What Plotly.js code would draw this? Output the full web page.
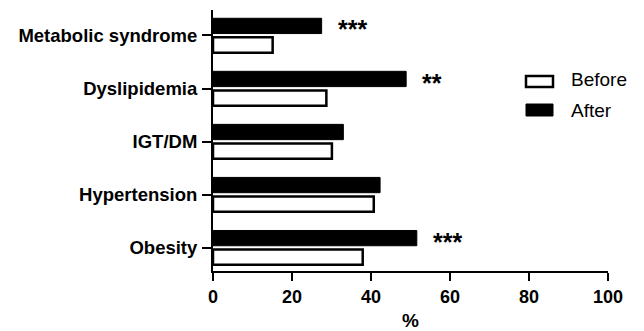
<!DOCTYPE html>
<html>
<head>
<meta charset="utf-8">
<script src="https://cdn.plot.ly/plotly-3.0.1.min.js"></script>
<style>html,body{margin:0;padding:0;background:#fff;}#chart{width:644px;height:331px;}</style>
</head>
<body>
<div id="chart"></div>
<script>
const categories = ["Obesity", "Hypertension", "IGT/DM", "Dyslipidemia", "Metabolic syndrome"];
const beforeValues = [37.9, 40.7, 30.1, 28.7, 15.1];
const afterValues = [51.6, 42.3, 33.0, 48.9, 27.5];
const significance = ["***", "", "", "**", "***"];
const xTicks = [0, 20, 40, 60, 80, 100];

const font = "Liberation Sans, Arial, Helvetica, sans-serif";

const traces = [
  {
    type: "bar", orientation: "h", name: "Before",
    x: beforeValues, y: categories,
    marker: {color: "#ffffff", line: {color: "#000000", width: 2.5}},
    hoverinfo: "x"
  },
  {
    type: "bar", orientation: "h", name: "After",
    x: afterValues, y: categories,
    marker: {color: "#000000", line: {color: "#000000", width: 1}},
    hoverinfo: "x"
  }
];

const annotations = [];
categories.forEach(function(c, i) {
  if (significance[i]) {
    annotations.push({
      x: afterValues[i], y: c, xref: "x", yref: "y",
      text: "<b>" + significance[i] + "</b>", showarrow: false,
      xanchor: "left", yanchor: "middle", xshift: 14, yshift: 6,
      font: {family: font, size: 25, color: "#000"}
    });
  }
});
// legend
annotations.push({x: 569, y: 79, xref: "paper", yref: "paper", text: "Before", showarrow: false,
  xanchor: "left", yanchor: "middle", font: {family: font, size: 19, color: "#000"}});
annotations.push({x: 569, y: 110, xref: "paper", yref: "paper", text: "After", showarrow: false,
  xanchor: "left", yanchor: "middle", font: {family: font, size: 19, color: "#000"}});

const layout = {
  width: 644, height: 331,
  margin: {l: 213, r: 36, t: 10, b: 60},
  paper_bgcolor: "#fff", plot_bgcolor: "#fff",
  showlegend: false,
  barmode: "group", bargap: 0.28, bargroupgap: 0.2,
  xaxis: {
    range: [0, 100], tickvals: xTicks, ticktext: xTicks.map(String),
    showgrid: false, zeroline: false,
    showline: true, linecolor: "#000", linewidth: 2,
    ticks: "outside", ticklen: 8, tickwidth: 2, tickcolor: "#000",
    tickfont: {family: font, size: 18, color: "#000", weight: "bold"},
    title: {text: "<b>%</b>", font: {family: font, size: 19, color: "#000"}, standoff: 8},
    fixedrange: true
  },
  yaxis: {
    type: "category", categoryorder: "array", categoryarray: categories,
    range: [-0.44, 4.48],
    showgrid: false, zeroline: false,
    showline: true, linecolor: "#000", linewidth: 2,
    ticks: "outside", ticklen: 9, tickwidth: 2, tickcolor: "#000",
    tickfont: {family: font, size: 18.5, color: "#000", weight: "bold"},
    ticklabelstandoff: 1,
    fixedrange: true
  },
  annotations: annotations,
  shapes: []
};

// convert legend pixel positions to paper coordinates
function px(x) { return (x - 213) / (644 - 213 - 36); }
function py(y) { return (331 - 60 - y) / (331 - 60 - 10); }
annotations.forEach(function(a) { if (a.xref === "paper") { a.x = px(a.x); a.y = py(a.y); } });
layout.shapes.push({type: "rect", xref: "paper", yref: "paper",
  x0: px(526), x1: px(553), y0: py(87), y1: py(76),
  line: {color: "#000", width: 2.5}, fillcolor: "#fff"});
layout.shapes.push({type: "rect", xref: "paper", yref: "paper",
  x0: px(526), x1: px(553), y0: py(116), y1: py(104),
  line: {color: "#000", width: 1}, fillcolor: "#000"});

Plotly.newPlot("chart", traces, layout, {displayModeBar: false, staticPlot: true});
</script>
</body>
</html>
